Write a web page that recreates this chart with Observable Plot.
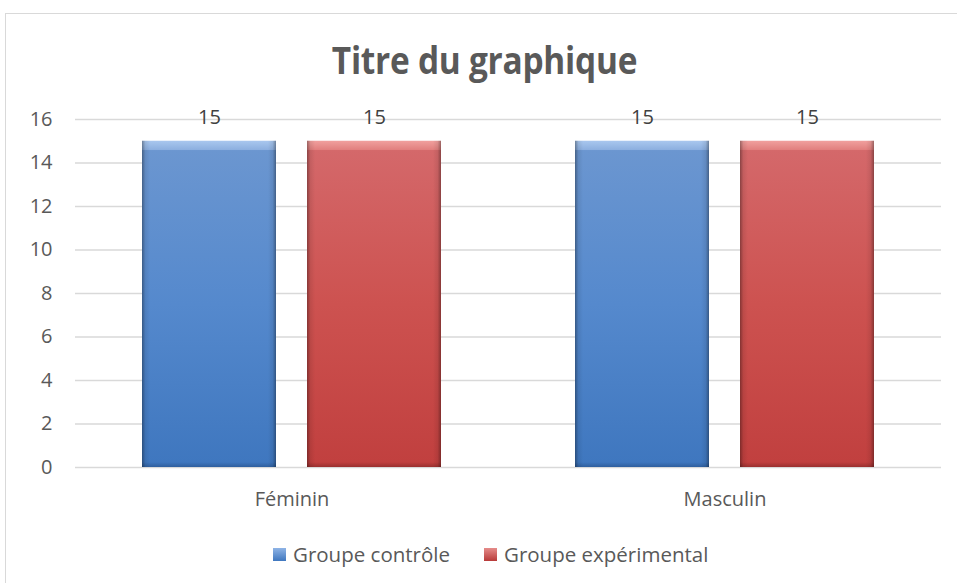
<!DOCTYPE html>
<html>
<head>
<meta charset="utf-8">
<script src="https://cdn.jsdelivr.net/npm/d3@7"></script>
<script src="https://cdn.jsdelivr.net/npm/@observablehq/plot@0.6"></script>
<style>
  html, body { margin: 0; padding: 0; background: #fff; }
  body { width: 957px; height: 583px; overflow: hidden; position: relative; font-family: "Open Sans", sans-serif; }
  #frame { position: absolute; left: 5px; top: 13px; width: 1000px; height: 1000px; border: 1.5px solid #d9d9d9; box-sizing: border-box; }
  #title { height: 100px; box-sizing: border-box; padding-top: 40px; line-height: 38px; font-size: 38px; font-weight: 700; color: #595959; text-align: center; }
  #title span { display: inline-block; transform: scaleX(0.88); transform-origin: center; margin-left: 12px; letter-spacing: -0.3px; }
  #chart { height: 425px; }
  #legend { height: 58px; box-sizing: border-box; padding-top: 0px; padding-left: 273px; display: flex; align-items: center; font-size: 20.5px; line-height: 27px; color: #595959; }
  .item { display: flex; align-items: center; margin-right: 34px; }
  .sw { width: 13px; height: 13px; margin-right: 7px; box-sizing: border-box; }
</style>
</head>
<body>
<svg width="0" height="0" style="position:absolute">
  <defs>
    <linearGradient id="gBlue" x1="0" y1="0" x2="0" y2="1">
      <stop offset="0" stop-color="#a9c7ee"/>
      <stop offset="0.027" stop-color="#8db0e0"/>
      <stop offset="0.03" stop-color="#6b96d0"/>
      <stop offset="0.5" stop-color="#5589cd"/>
      <stop offset="0.985" stop-color="#3f77bf"/>
      <stop offset="1" stop-color="#2f5f9e"/>
    </linearGradient>
    <linearGradient id="gRed" x1="0" y1="0" x2="0" y2="1">
      <stop offset="0" stop-color="#f0a09e"/>
      <stop offset="0.027" stop-color="#e2807f"/>
      <stop offset="0.03" stop-color="#d4686a"/>
      <stop offset="0.5" stop-color="#cd5250"/>
      <stop offset="0.985" stop-color="#c1403f"/>
      <stop offset="1" stop-color="#9a302f"/>
    </linearGradient>
    <linearGradient id="gEdge" x1="0" y1="0" x2="1" y2="0">
      <stop offset="0" stop-color="#000" stop-opacity="0.35"/>
      <stop offset="0.025" stop-color="#000" stop-opacity="0.08"/>
      <stop offset="0.06" stop-color="#000" stop-opacity="0"/>
      <stop offset="0.94" stop-color="#000" stop-opacity="0"/>
      <stop offset="0.975" stop-color="#000" stop-opacity="0.08"/>
      <stop offset="1" stop-color="#000" stop-opacity="0.35"/>
    </linearGradient>
  </defs>
</svg>
<div id="frame"></div>
<div id="title"><span>Titre du graphique</span></div>
<div id="chart"></div>
<div id="legend"></div>
<script>
const categories = ["Féminin", "Masculin"];
const groups = ["Groupe contrôle", "Groupe expérimental"];
const controleValues = [15, 15];
const experimentalValues = [15, 15];
const yTicks = [0, 2, 4, 6, 8, 10, 12, 14, 16];
const groupFills = ["url(#gBlue)", "url(#gRed)"];
const legendSwatches = ["linear-gradient(#8fb4e6, #3f77bf)", "linear-gradient(#e58c8a, #b83a39)"];

const data = categories.flatMap((c, i) => [
  {category: c, group: groups[0], value: controleValues[i]},
  {category: c, group: groups[1], value: experimentalValues[i]}
]);

const chart = Plot.plot({
  width: 957,
  height: 425,
  marginTop: 19,
  marginBottom: 58,
  marginLeft: 74,
  marginRight: 16,
  style: {fontFamily: "'Open Sans', sans-serif", fontSize: "20px", color: "#595959", background: "transparent", overflow: "visible"},
  fx: {domain: categories, padding: 0, label: null},
  x: {domain: groups, paddingInner: 0.1867, paddingOuter: 0.399, axis: null},
  y: {domain: [0, 16]},
  color: {domain: groups, range: groupFills},
  marks: [
    Plot.ruleY(yTicks, {stroke: "#d9d9d9", strokeWidth: 1.3}),
    Plot.axisY({ticks: yTicks, tickSize: 0, tickPadding: 23, label: null}),
    Plot.axisFx({anchor: "bottom", tickSize: 0, tickPadding: 24, label: null}),
    Plot.barY(data, {fx: "category", x: "group", y: "value", fill: "group"}),
    Plot.barY(data, {fx: "category", x: "group", y: "value", fill: "url(#gEdge)"}),
    Plot.text(data, {fx: "category", x: "group", y: "value", text: d => String(d.value), dy: -24, fill: "#404040"})
  ]
});
document.getElementById("chart").appendChild(chart);

const legend = document.getElementById("legend");
groups.forEach((g, i) => {
  const item = document.createElement("div");
  item.className = "item";
  const sw = document.createElement("span");
  sw.className = "sw";
  sw.style.background = legendSwatches[i];
  const t = document.createElement("span");
  t.textContent = g;
  item.appendChild(sw);
  item.appendChild(t);
  legend.appendChild(item);
});
</script>
</body>
</html>
